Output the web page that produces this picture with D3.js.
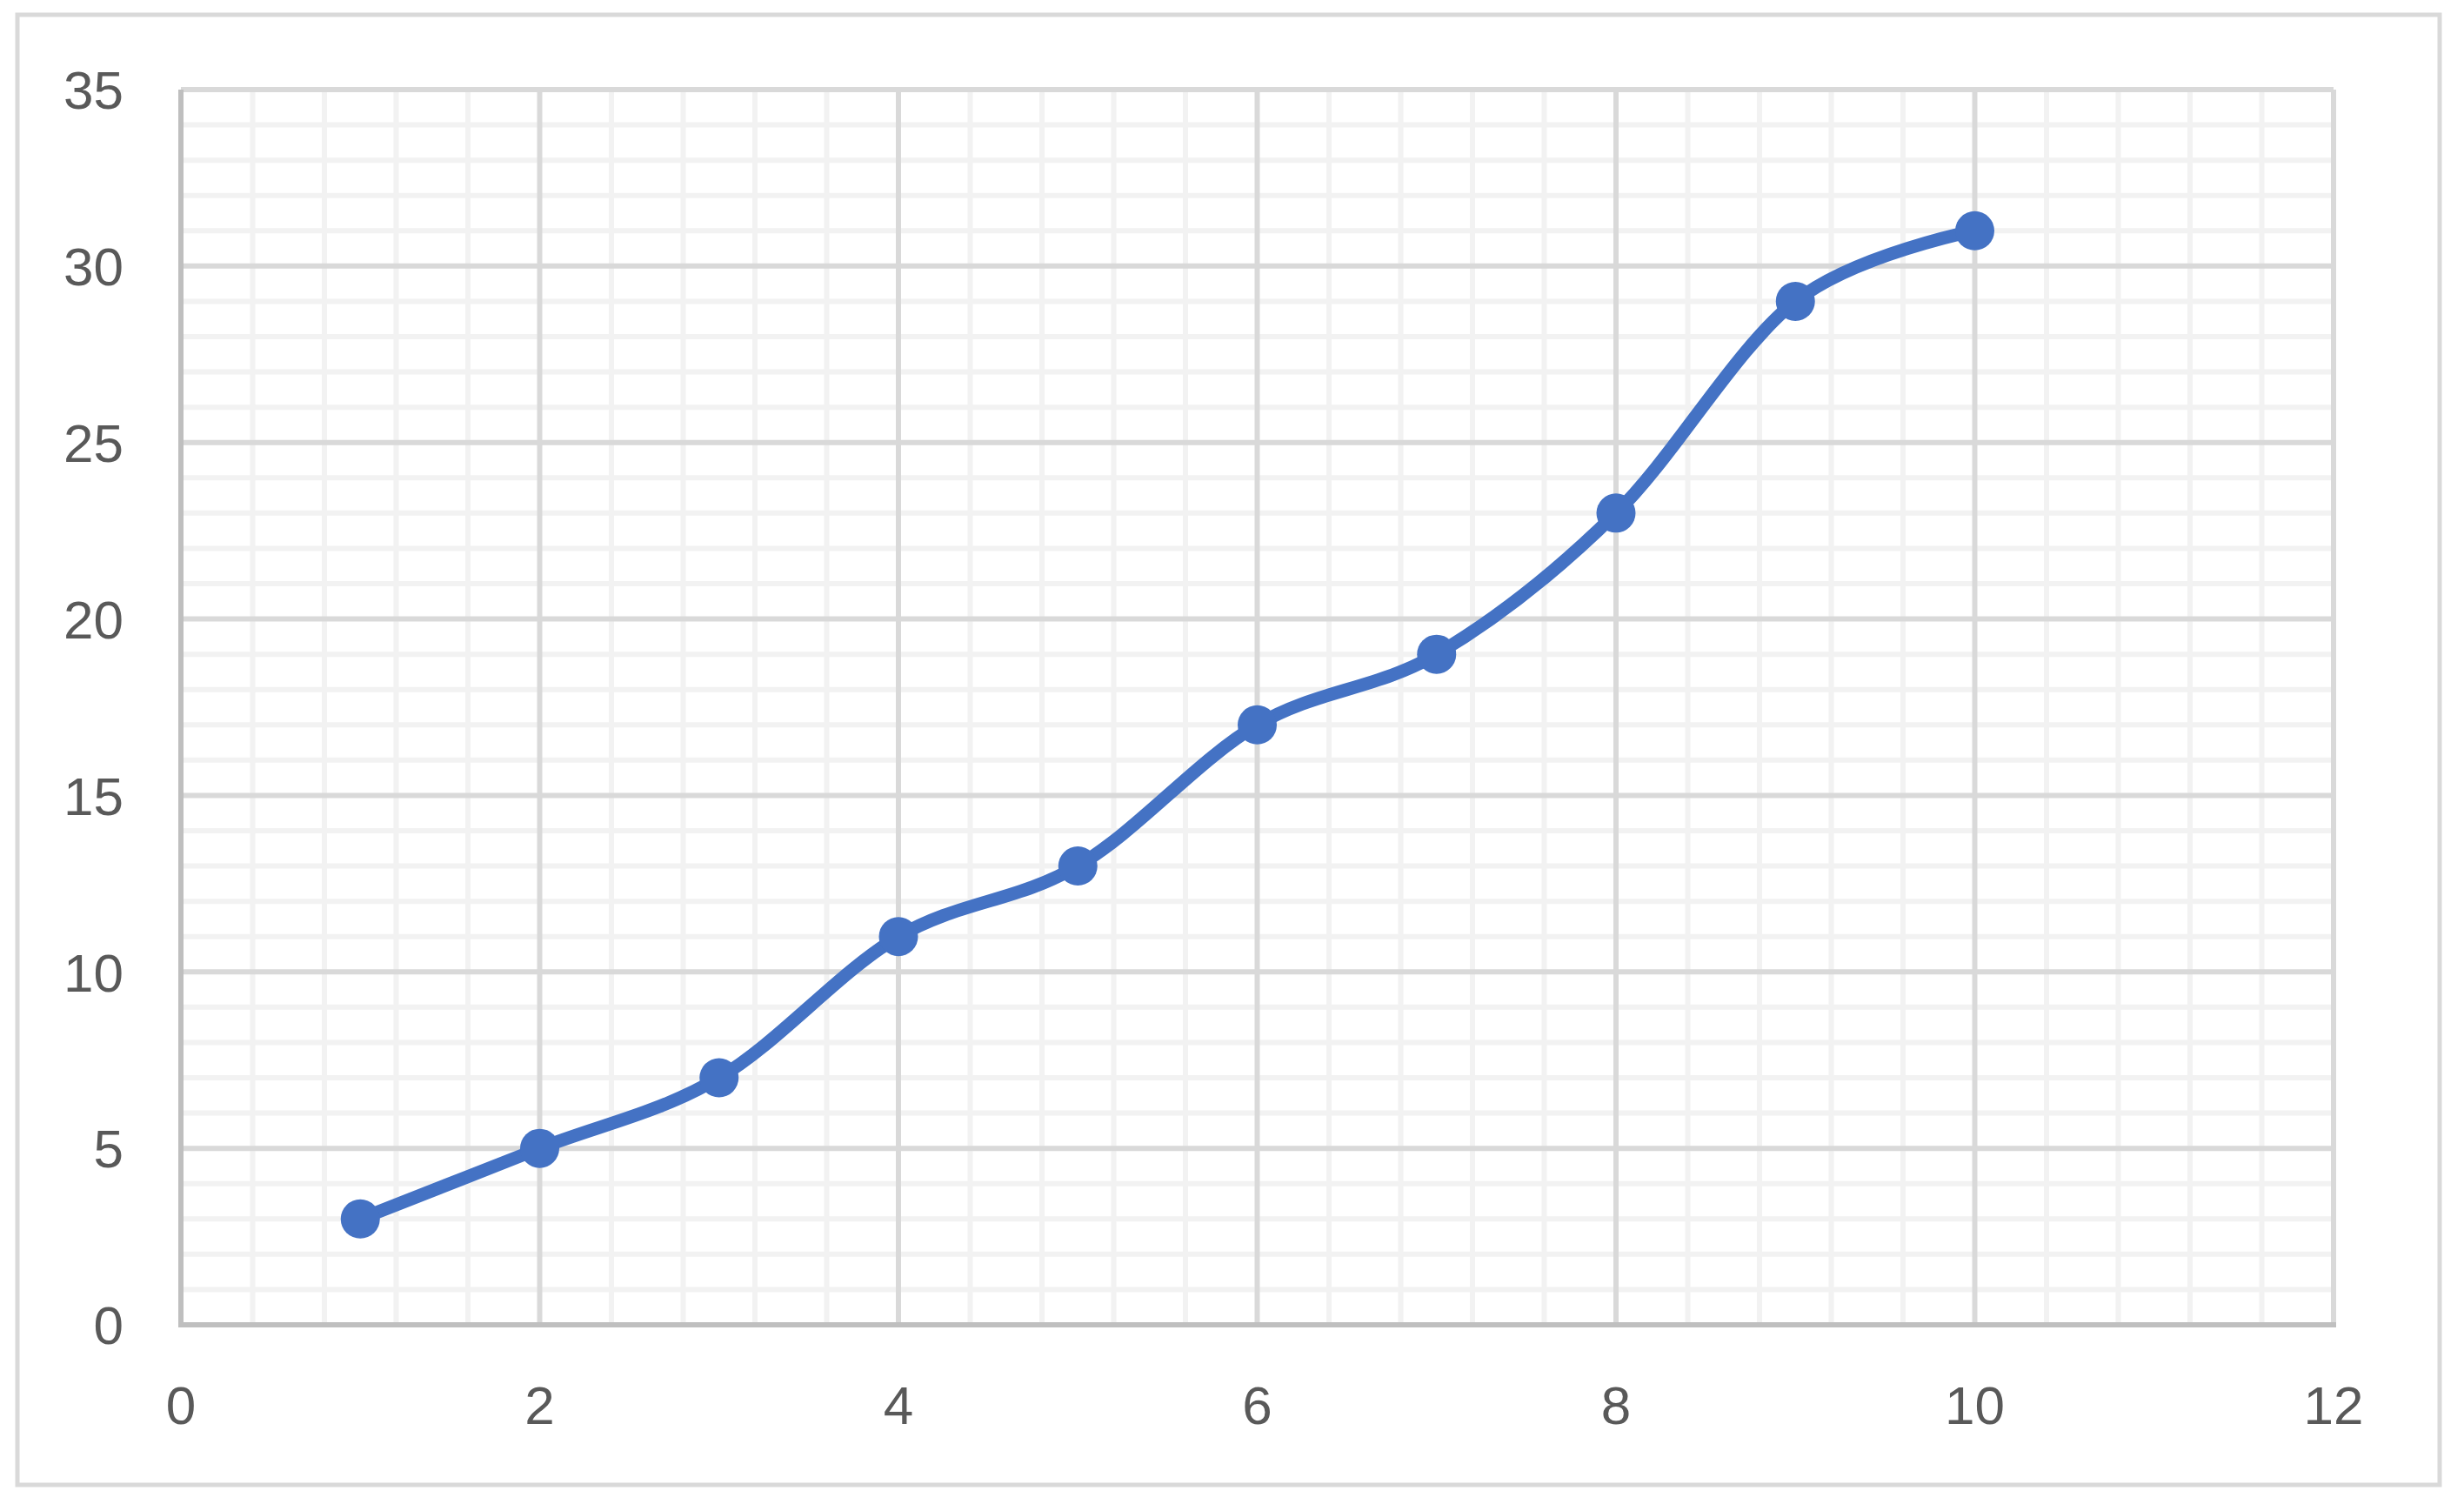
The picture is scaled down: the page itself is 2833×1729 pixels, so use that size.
<!DOCTYPE html>
<html lang="en">
<head>
    <meta charset="UTF-8">
    <script src="https://d3js.org/d3.v7.min.js"></script>
    <style>
        body { margin: 0; background: #fff; overflow: hidden; }
        .tick-label { font-family: "Liberation Sans", Arial, sans-serif; font-size: 62px; fill: #595959; }
    </style>
</head>
<body>
    <svg id="chart"></svg>
    <script>
        const xValues = [1, 2, 3, 4, 5, 6, 7, 8, 9, 10];
        const yValues = [3, 5, 7, 11, 13, 17, 19, 23, 29, 31];
        const xTicks = [0, 2, 4, 6, 8, 10, 12];
        const yTicks = [0, 5, 10, 15, 20, 25, 30, 35];

        const width = 2833, height = 1729;
        const plot = {left: 208, right: 2683, top: 103, bottom: 1523};

        const svg = d3.select("#chart").attr("width", width).attr("height", height);

        // outer chart border
        svg.append("rect")
            .attr("x", 20).attr("y", 17)
            .attr("width", 2785).attr("height", 1690)
            .attr("fill", "#fff").attr("stroke", "#d9d9d9").attr("stroke-width", 5);

        const x = d3.scaleLinear().domain([0, 12]).range([plot.left, plot.right]);
        const y = d3.scaleLinear().domain([0, 35]).range([plot.bottom, plot.top]);

        // minor gridlines
        const xMinor = d3.range(0, 12.001, 0.4).filter(v => Math.abs(v / 2 - Math.round(v / 2)) > 0.01);
        const yMinor = d3.range(0, 35.001, 1).filter(v => v % 5 !== 0);

        svg.append("g").selectAll("line").data(xMinor).join("line")
            .attr("x1", d => x(d)).attr("x2", d => x(d))
            .attr("y1", plot.top).attr("y2", plot.bottom)
            .attr("stroke", "#f2f2f2").attr("stroke-width", 6);
        svg.append("g").selectAll("line").data(yMinor).join("line")
            .attr("x1", plot.left).attr("x2", plot.right)
            .attr("y1", d => y(d)).attr("y2", d => y(d))
            .attr("stroke", "#f2f2f2").attr("stroke-width", 6);

        // major gridlines
        svg.append("g").selectAll("line").data(xTicks.slice(1)).join("line")
            .attr("x1", d => x(d)).attr("x2", d => x(d))
            .attr("y1", plot.top).attr("y2", plot.bottom)
            .attr("stroke", "#d9d9d9").attr("stroke-width", 6);
        svg.append("g").selectAll("line").data(yTicks.slice(1)).join("line")
            .attr("x1", plot.left).attr("x2", plot.right)
            .attr("y1", d => y(d)).attr("y2", d => y(d))
            .attr("stroke", "#d9d9d9").attr("stroke-width", 6);

        // axis lines
        svg.append("line")
            .attr("x1", plot.left).attr("x2", plot.left)
            .attr("y1", plot.top).attr("y2", plot.bottom + 3)
            .attr("stroke", "#bfbfbf").attr("stroke-width", 6);
        svg.append("line")
            .attr("x1", plot.left - 3).attr("x2", plot.right + 3)
            .attr("y1", plot.bottom).attr("y2", plot.bottom)
            .attr("stroke", "#bfbfbf").attr("stroke-width", 6);

        // tick labels
        svg.append("g").selectAll("text").data(yTicks).join("text")
            .attr("class", "tick-label")
            .attr("x", plot.left - 66)
            .attr("y", d => y(d))
            .attr("dy", "0.36em")
            .attr("text-anchor", "end")
            .text(d => d);
        svg.append("g").selectAll("text").data(xTicks).join("text")
            .attr("class", "tick-label")
            .attr("x", d => x(d))
            .attr("y", plot.bottom + 114)
            .attr("text-anchor", "middle")
            .text(d => d);

        const points = xValues.map((v, i) => [v, yValues[i]]);

        const line = d3.line()
            .x(d => x(d[0])).y(d => y(d[1]))
            .curve(d3.curveCardinal.tension(0));

        svg.append("path")
            .datum(points)
            .attr("d", line)
            .attr("fill", "none")
            .attr("stroke", "#4472c4")
            .attr("stroke-width", 15)
            .attr("stroke-linecap", "round")
            .attr("stroke-linejoin", "round");

        svg.append("g").selectAll("circle").data(points).join("circle")
            .attr("cx", d => x(d[0])).attr("cy", d => y(d[1]))
            .attr("r", 22.5)
            .attr("fill", "#4472c4");
    </script>
</body>
</html>
